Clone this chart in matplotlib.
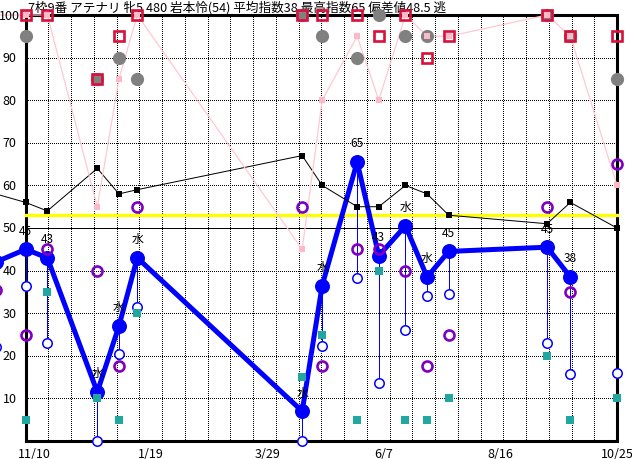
import matplotlib
matplotlib.use("Agg")
import matplotlib.pyplot as plt
import matplotlib.dates as mdates
import numpy as np
import pandas as pd

plt.rcParams["font.family"] = ["Noto Sans CJK JP", "DejaVu Sans"]

nan = np.nan

TITLE = "7枠9番 アテナリ 牝5 480 岩本怜(54) 平均指数38 最高指数65 偏差値48.5 逃"

# one entry per race (the first one lies just outside the frame)
RACE_DATES = ["2019-10-18", "2019-11-05", "2019-11-18", "2019-12-18", "2019-12-31",
              "2020-01-11", "2020-04-19", "2020-05-01", "2020-05-22", "2020-06-04",
              "2020-06-20", "2020-07-03", "2020-07-16", "2020-09-13", "2020-09-27",
              "2020-10-25"]
INDEX     = [42, 45, 43, 11.5, 27, 43, 7, 36.5, 65.5, 43.5, 50.5, 38.5, 44.5, 45.5, 38.5, nan]
INDEX_LBL = ["", "45", "43", "水", "水", "水", "水", "水", "65", "43", "水", "水", "45", "45", "38", ""]
LOW       = [22, 36.5, 23, 0, 20.5, 31.5, 0, 22.3, 38.2, 13.6, 26, 34, 34.5, 23, 15.7, 16]
TEAL      = [nan, 5, 35, 10, 5, 30, 15, 25, 5, 40, 5, 5, 10, 20, 5, 10]
PURPLE    = [35.5, 25, 45, 40, 17.5, 55, 55, 17.5, 45, 45, 40, 17.5, 25, 55, 35, 65]
BLACK     = [58, 56, 54, 64, 58, 59, 67, 60, 55, 55, 60, 58, 53, 51, 56, 50]
PINK      = [100, 100, 100, 55, 85, 100, 45, 80, 95, 80, 100, 95, 95, 100, 95, 60]
RED       = [nan, 100, 100, 85, 95, 100, 100, 100, 100, 95, 100, 90, 95, 100, 95, 95]
GRAY      = [nan, 95, nan, 85, 90, 85, 100, 95, 90, 100, 95, 95, nan, 100, 95, 85]
AVG_LINE  = 53.1

TICK_DATES = ["2019-11-10", "2020-01-19", "2020-03-29", "2020-06-07", "2020-08-16", "2020-10-25"]
TICK_LBLS  = ["11/10", "1/19", "3/29", "6/7", "8/16", "10/25"]
Y_TICKS    = [10, 20, 30, 40, 50, 60, 70, 80, 90, 100]


def main():
    x = mdates.date2num(pd.to_datetime(RACE_DATES))
    ticks = mdates.date2num(pd.to_datetime(TICK_DATES))
    idx = np.array(INDEX, dtype=float)
    low = np.array(LOW, dtype=float)

    fig = plt.figure(figsize=(6.32, 4.60), dpi=100)
    ax = fig.add_axes([0, 0, 1, 1])
    ax.axis("off")

    # pixel layout of the original: 11/10 at x=34, 10/25 at x=617
    ppd = (617 - 34) / (ticks[-1] - ticks[0])
    ax.set_xlim(ticks[0] - 34 / ppd, ticks[0] + (632 - 34) / ppd)
    ax.set_ylim(-18 / 4.26, 100 + 16 / 4.26)

    left, right = x[1], x[-1]

    # dotted grid, crisp like the original bitmap
    dots = dict(color="black", lw=0.72, ls=(0, (1, 2)), antialiased=False, zorder=1)
    for gx in np.linspace(left, right, 27)[1:-1]:
        ax.plot([gx, gx], [0, 100], **dots)
    for gy in range(10, 100, 10):
        if gy == 50:
            ax.plot([left, right], [gy, gy], color="black", lw=0.72, antialiased=False, zorder=1)
        else:
            ax.plot([left, right], [gy, gy], **dots)
    # frame
    ax.plot([left, right, right, left, left], [0, 0, 100, 100, 0],
            color="black", lw=2.2, zorder=1.5, solid_joinstyle="miter")

    ax.plot([left, right], [AVG_LINE, AVG_LINE], color="#ffff00", lw=2.4, zorder=2)

    # main index line
    ok = ~np.isnan(idx)
    ax.plot(x[ok], idx[ok], color="#0000ff", lw=3.6, zorder=3)
    ax.vlines(x[ok], low[ok], idx[ok], color="#0000ff", lw=0.6,
              antialiased=False, zorder=3)

    ax.plot(x, BLACK, color="black", lw=0.72, marker="s", ms=4.8, mew=0, zorder=4)
    ax.plot(x, PINK, color="#ffc8d2", lw=0.9, zorder=4)

    for xi, yi, t in zip(x, idx, INDEX_LBL):
        if t:
            ax.annotate(t, (xi, yi), xytext=(0, 13.8), textcoords="offset points",
                        ha="center", va="center", fontsize=8.6, color="black", zorder=4.5)

    ax.plot(x[ok], idx[ok], ls="none", marker="o", ms=10.8, mew=0, color="#0000ff", zorder=5)
    ax.plot(x, LOW, ls="none", marker="o", ms=6.8, mew=1.1, mec="#0000ff", mfc="white", zorder=5)
    ax.plot(x, TEAL, ls="none", marker="s", ms=6, mew=0, color="#20a8a0", zorder=6)
    ax.plot(x, GRAY, ls="none", marker="o", ms=9.5, mew=0, color="#808080", zorder=6)
    ax.plot(x, RED, ls="none", marker="s", ms=6.8, mew=1.9, mec="#d8103c", mfc="none", zorder=7)
    ax.plot(x, PINK, ls="none", marker="s", ms=4.3, mew=0, color="#ffb8c8", zorder=8)
    ax.plot(x, PURPLE, ls="none", marker="o", ms=7.2, mew=1.9, mec="#8000c0", mfc="none", zorder=9)

    # axis labels as plain text
    for v in Y_TICKS:
        ax.text(ticks[0] - 24.5 / ppd, v, str(v), ha="center", va="center", fontsize=9, zorder=10)
    for t, lbl in zip(ticks, TICK_LBLS):
        ax.text(t, -13 / 4.26, lbl, ha="center", va="center", fontsize=9)

    ax.text(ticks[0] - 6 / ppd, 100 + 8.5 / 4.26, TITLE, ha="left", va="center", fontsize=9.1)

    fig.savefig("out.png", dpi=100)
    plt.close(fig)


if __name__ == "__main__":
    main()
